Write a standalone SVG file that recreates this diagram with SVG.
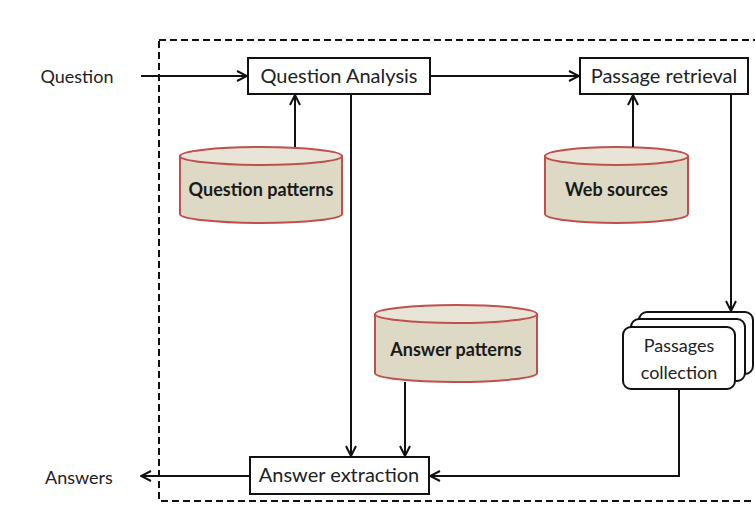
<svg xmlns="http://www.w3.org/2000/svg" width="755" height="526" viewBox="0 0 755 526">
  <defs>
    <marker id="arrow" viewBox="0 0 12 12" refX="11" refY="6" markerWidth="12" markerHeight="12" markerUnits="userSpaceOnUse" orient="auto">
      <path d="M1,1 L11,6 L1,11" fill="none" stroke="#111" stroke-width="2"/>
    </marker>
    <style>
      .box { fill: #fff; stroke: #111; stroke-width: 2; }
      .lbl { font-family: Lato, "Open Sans", sans-serif; font-size: 20px; fill: #222; text-anchor: middle; }
      .db-body { fill: #ddd9c4; stroke: #c0504d; stroke-width: 2; }
      .db-top { fill: #e8e5d8; stroke: #c0504d; stroke-width: 2; }
      .db-lbl { font-family: Lato, "Open Sans", sans-serif; font-size: 18px; font-weight: bold; fill: #1a1a1a; text-anchor: middle; }
      .conn { fill: none; stroke: #111; stroke-width: 2; }
      .frame { fill: none; stroke: #111; stroke-width: 2; stroke-dasharray: 7 4; }
    </style>
  </defs>
  <rect width="755" height="526" fill="#fff"/>

  <!-- system boundary -->
  <rect class="frame" x="159" y="40" width="610" height="461"/>

  <!-- external labels -->
  <g id="question">
    <text class="lbl" x="77" y="83" style="font-size:18px">Question</text>
  </g>
  <g id="answers">
    <text class="lbl" x="79" y="484" style="font-size:18px">Answers</text>
  </g>

  <!-- processing boxes -->
  <g id="question-analysis">
    <rect class="box" x="248" y="58" width="182" height="36"/>
    <text class="lbl" x="339" y="83">Question Analysis</text>
  </g>
  <g id="passage-retrieval">
    <rect class="box" x="580" y="58" width="168" height="36"/>
    <text class="lbl" x="664" y="83">Passage retrieval</text>
  </g>
  <g id="answer-extraction">
    <rect class="box" x="250" y="457" width="179" height="37"/>
    <text class="lbl" x="339" y="482">Answer extraction</text>
  </g>

  <!-- databases -->
  <g id="question-patterns">
    <path class="db-body" d="M180,156 L180,214 A81,9 0 0 0 342,214 L342,156 Z"/>
    <ellipse class="db-top" cx="261" cy="156" rx="81" ry="9"/>
    <text class="db-lbl" x="261" y="196">Question patterns</text>
  </g>
  <g id="web-sources">
    <path class="db-body" d="M545,156 L545,214 A71.5,9 0 0 0 688,214 L688,156 Z"/>
    <ellipse class="db-top" cx="616.5" cy="156" rx="71.5" ry="9"/>
    <text class="db-lbl" x="616.5" y="196">Web sources</text>
  </g>
  <g id="answer-patterns">
    <path class="db-body" d="M375,314 L375,373 A81,9 0 0 0 537,373 L537,314 Z"/>
    <ellipse class="db-top" cx="456" cy="314" rx="81" ry="9"/>
    <text class="db-lbl" x="456" y="356">Answer patterns</text>
  </g>

  <!-- stacked passages -->
  <g id="passages-collection">
    <rect class="box" x="639" y="312" width="114" height="62" rx="8"/>
    <rect class="box" x="631" y="319" width="114" height="62" rx="8"/>
    <rect class="box" x="623" y="327" width="112" height="62" rx="8"/>
    <text class="lbl" x="679" y="352" style="font-size:18px">Passages</text>
    <text class="lbl" x="679" y="379" style="font-size:18px">collection</text>
  </g>

  <!-- connectors -->
  <g id="connectors">
    <line class="conn" x1="141" y1="76" x2="247" y2="76" marker-end="url(#arrow)"/>
    <line class="conn" x1="430" y1="76" x2="579" y2="76" marker-end="url(#arrow)"/>
    <line class="conn" x1="295" y1="147" x2="295" y2="95" marker-end="url(#arrow)"/>
    <line class="conn" x1="633" y1="147" x2="633" y2="95" marker-end="url(#arrow)"/>
    <line class="conn" x1="351" y1="94" x2="351" y2="456" marker-end="url(#arrow)"/>
    <line class="conn" x1="405" y1="382" x2="405" y2="456" marker-end="url(#arrow)"/>
    <line class="conn" x1="731" y1="94" x2="731" y2="311" marker-end="url(#arrow)"/>
    <polyline class="conn" points="679,389 679,476 430,476" marker-end="url(#arrow)"/>
    <line class="conn" x1="250" y1="476" x2="141" y2="476" marker-end="url(#arrow)"/>
  </g>
</svg>
